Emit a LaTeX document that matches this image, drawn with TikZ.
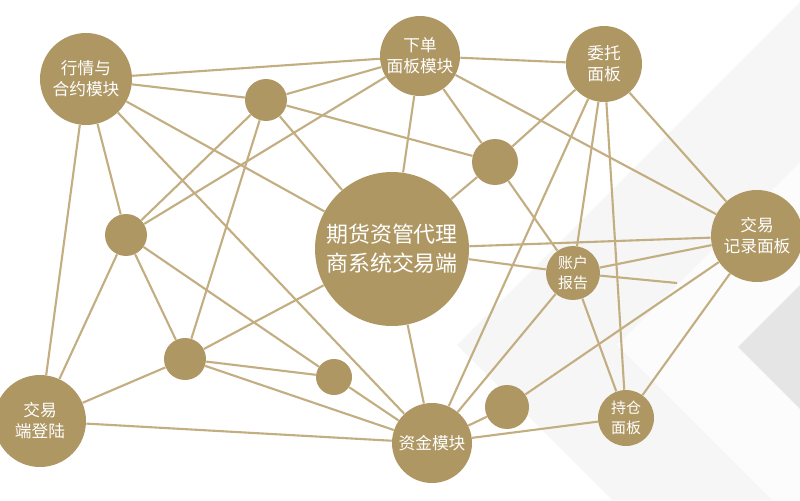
\documentclass[tikz,border=0pt]{standalone}
\usepackage{fontspec}
\usepackage{tikz}
\newfontfamily\cjk{Noto Sans CJK SC}
\definecolor{gold}{RGB}{174,151,99}
\definecolor{goldline}{RGB}{194,174,128}

\begin{document}
\begin{tikzpicture}[x=0.02cm,y=-0.02cm,
			main node/.style={circle,fill=gold,text=white,align=center,inner sep=0pt,
				font=\cjk\fontsize{9.5}{12}\selectfont,minimum size=#1},
			dot node/.style={circle,fill=gold,inner sep=0pt,minimum size=#1}]
			
			% background chevrons
			\fill[white] (0,0) rectangle (800,500);
			\useasboundingbox (0,0) rectangle (800,500);
			\fill[gray!7] (457,345) -- (800,2) -- (800,500) -- (612,500) -- cycle;
			\fill[gray!2] (617,345) -- (800,162) -- (800,500) -- (772,500) -- cycle;
			\fill[gray!20] (738,347) -- (800,285) -- (800,409) -- cycle;
			
			\node[main node=1.84cm] (A) at (86,79) {行情与\\合约模块};
			\node[main node=1.6cm] (B) at (420,56) {下单\\面板模块};
			\node[main node=1.52cm] (C) at (604,64) {委托\\面板};
			\node[main node=1.84cm] (D) at (757,236) {交易\\记录面板};
			\node[main node=3.08cm,font=\cjk\fontsize{12.5}{16.5}\selectfont] (E) at (392,249) {期货资管代理\\商系统交易端};
			\node[main node=1.08cm,font=\cjk\fontsize{8.5}{11.5}\selectfont] (F) at (573,273) {账户\\报告};
			\node[main node=1.12cm,font=\cjk\fontsize{8.5}{11.5}\selectfont] (G) at (626,418) {持仓\\面板};
			\node[main node=1.6cm] (H) at (432,443) {资金模块};
			\node[main node=1.84cm] (I) at (40,421) {交易\\端登陆};
			\node[dot node=0.84cm] (J) at (266,100) {};
			\node[dot node=0.92cm] (K) at (495,162) {};
			\node[dot node=0.84cm] (L) at (126,235) {};
			\node[dot node=0.84cm] (M) at (185,359) {};
			\node[dot node=0.72cm] (N) at (334,377) {};
			\node[dot node=0.88cm] (O) at (507,407) {};
			\coordinate (P) at (677,283);
			
			\path[-,draw=goldline,line width=1.2pt]
			(A) edge (B)
			(A) edge (J)
			(A) edge (I)
			(A) edge (L)
			(A) edge (H)
			(A) edge (E)
			(J) edge (B)
			(J) edge (K)
			(J) edge (L)
			(J) edge (M)
			(J) edge (E)
			(L) edge (B)
			(L) edge (I)
			(L) edge (M)
			(L) edge (N)
			(M) edge (I)
			(M) edge (E)
			(M) edge (N)
			(M) edge (H)
			(I) edge (H)
			(N) edge (H)
			(E) edge (B)
			(E) edge (K)
			(E) edge (D)
			(E) edge (F)
			(E) edge (H)
			(B) edge (C)
			(B) edge (D)
			(B) edge (K)
			(C) edge (K)
			(C) edge (D)
			(C) edge (H)
			(C) edge (F)
			(C) edge (G)
			(K) edge (F)
			(F) edge (D)
			(F) edge (G)
			(F) edge (H)
			(F) edge (P)
			(O) edge (H)
			(O) edge (D)
			(G) edge (H)
			(G) edge (D);
			
		\end{tikzpicture}
\end{document}
